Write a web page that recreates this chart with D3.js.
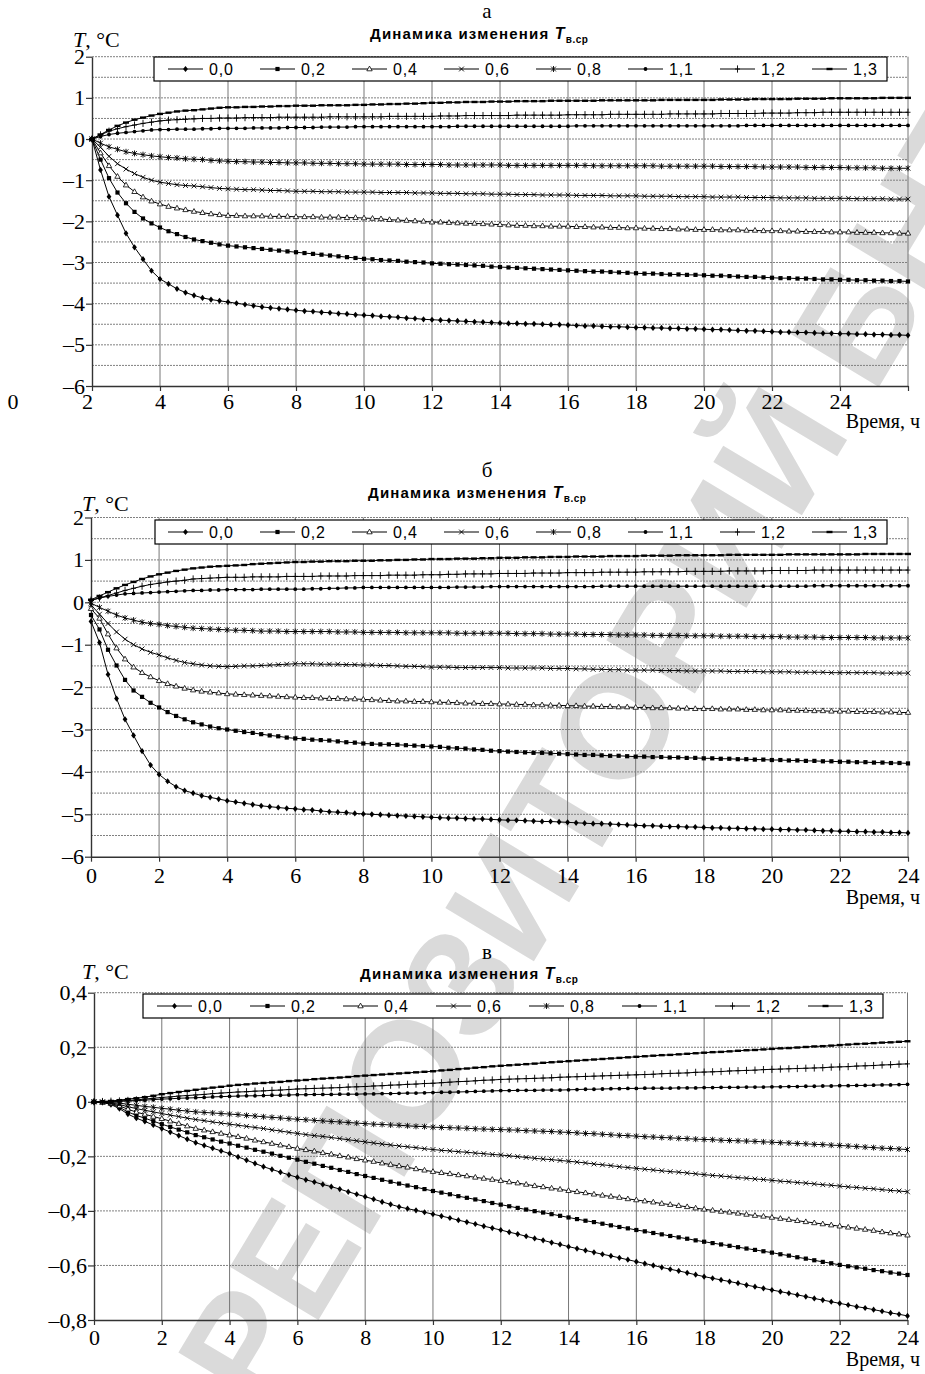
<!DOCTYPE html>
<html>
<head>
<meta charset="utf-8">
<script src="https://cdn.jsdelivr.net/npm/d3@7"></script>
<style>
body { margin: 0; background: #fff; }
svg { display: block; }
</style>
</head>
<body>
<div id="chart"></div>
<script>
// readings every 15 min, 0..24 h
const hours = d3.range(0, 24.001, 0.25);
const hourTicks = [0, 2, 4, 6, 8, 10, 12, 14, 16, 18, 20, 22, 24];
const hourLabels = ["0", "2", "4", "6", "8", "10", "12", "14", "16", "18", "20", "22", "24"];
// panel "а" has its labels moved one step left in the original
const hourLabelsA = ["2", "4", "6", "8", "10", "12", "14", "16", "18", "20", "22", "24", ""];
const tempTicksAB = [-6, -5, -4, -3, -2, -1, 0, 1, 2];
const tempTicksV = [-0.8, -0.6, -0.4, -0.2, 0, 0.2, 0.4];
const seriesNames = ["0,0", "0,2", "0,4", "0,6", "0,8", "1,1", "1,2", "1,3"];

// ---- panel а ----
const a00 = [0,-0.75,-1.4,-1.85,-2.29,-2.63,-2.92,-3.2,-3.4,-3.52,-3.64,-3.73,-3.8,-3.86,-3.9,-3.93,-3.96,
  -3.99,-4.02,-4.05,-4.08,-4.1,-4.12,-4.14,-4.16, -4.18,-4.19,-4.21,-4.22,-4.24,-4.25,-4.27,-4.28,
  -4.29,-4.31,-4.32,-4.33,-4.35,-4.36,-4.38,-4.39, -4.4,-4.41,-4.42,-4.43,-4.44,-4.45,-4.46,-4.47,
  -4.48,-4.48,-4.49,-4.49,-4.5,-4.51,-4.51,-4.52, -4.53,-4.54,-4.54,-4.55,-4.56,-4.56,-4.57,-4.58,
  -4.58,-4.59,-4.59,-4.6,-4.6,-4.61,-4.61,-4.62, -4.63,-4.63,-4.64,-4.65,-4.66,-4.66,-4.67,-4.68,
  -4.69,-4.69,-4.7,-4.7,-4.71,-4.72,-4.72,-4.73, -4.73,-4.74,-4.74,-4.75,-4.75,-4.76,-4.76,-4.77];
const a02 = [0,-0.5,-0.95,-1.3,-1.56,-1.77,-1.93,-2.05,-2.15,-2.24,-2.31,-2.38,-2.44,-2.48,-2.52,-2.56,-2.59,
  -2.61,-2.63,-2.65,-2.67,-2.69,-2.71,-2.73,-2.75, -2.77,-2.79,-2.81,-2.83,-2.85,-2.87,-2.89,-2.91,
  -2.92,-2.94,-2.95,-2.96,-2.98,-2.99,-3.0,-3.02, -3.03,-3.04,-3.05,-3.06,-3.07,-3.08,-3.1,-3.11,
  -3.12,-3.13,-3.14,-3.15,-3.16,-3.17,-3.18,-3.19, -3.2,-3.21,-3.22,-3.22,-3.23,-3.24,-3.25,-3.26,
  -3.27,-3.27,-3.28,-3.29,-3.29,-3.3,-3.3,-3.31, -3.32,-3.32,-3.33,-3.34,-3.35,-3.35,-3.36,-3.37,
  -3.38,-3.38,-3.39,-3.39,-3.4,-3.41,-3.41,-3.42, -3.42,-3.43,-3.43,-3.44,-3.44,-3.45,-3.45,-3.46];
const a04 = [0,-0.34,-0.65,-0.91,-1.12,-1.28,-1.41,-1.51,-1.58,-1.64,-1.68,-1.72,-1.76,-1.79,-1.82,-1.84,-1.86,
  -1.86,-1.87,-1.87,-1.87,-1.88,-1.88,-1.88,-1.89, -1.89,-1.89,-1.9,-1.9,-1.9,-1.91,-1.91,-1.92,
  -1.93,-1.94,-1.96,-1.97,-1.98,-1.99,-2.0,-2.02, -2.02,-2.03,-2.04,-2.05,-2.05,-2.06,-2.07,-2.08,
  -2.09,-2.1,-2.1,-2.11,-2.11,-2.12,-2.12,-2.12, -2.13,-2.13,-2.14,-2.14,-2.15,-2.15,-2.16,-2.16,
  -2.17,-2.17,-2.18,-2.18,-2.19,-2.19,-2.2,-2.2, -2.2,-2.21,-2.21,-2.21,-2.22,-2.22,-2.23,-2.23,
  -2.23,-2.24,-2.24,-2.25,-2.25,-2.25,-2.26,-2.26, -2.26,-2.27,-2.27,-2.27,-2.28,-2.28,-2.29,-2.29];
const a06 = [0,-0.2,-0.42,-0.6,-0.73,-0.84,-0.93,-1.0,-1.05,-1.08,-1.11,-1.13,-1.14,-1.16,-1.18,-1.2,-1.21,
  -1.22,-1.23,-1.23,-1.24,-1.25,-1.25,-1.26,-1.27, -1.27,-1.27,-1.28,-1.28,-1.28,-1.29,-1.29,-1.29,
  -1.29,-1.3,-1.3,-1.3,-1.3,-1.31,-1.31,-1.31, -1.32,-1.32,-1.32,-1.33,-1.33,-1.33,-1.34,-1.34,
  -1.34,-1.35,-1.35,-1.35,-1.36,-1.36,-1.36,-1.36, -1.37,-1.37,-1.37,-1.37,-1.38,-1.38,-1.38,-1.38,
  -1.39,-1.39,-1.39,-1.39,-1.4,-1.4,-1.4,-1.4, -1.41,-1.41,-1.41,-1.41,-1.42,-1.42,-1.42,-1.42,
  -1.43,-1.43,-1.43,-1.43,-1.44,-1.44,-1.44,-1.44, -1.44,-1.45,-1.45,-1.45,-1.45,-1.46,-1.46,-1.46];
const a08 = [0,-0.1,-0.19,-0.25,-0.31,-0.35,-0.38,-0.41,-0.43,-0.45,-0.46,-0.48,-0.49,-0.5,-0.52,-0.53,-0.54,
  -0.55,-0.55,-0.56,-0.56,-0.57,-0.57,-0.58,-0.58, -0.58,-0.59,-0.59,-0.59,-0.6,-0.6,-0.6,-0.61,
  -0.61,-0.61,-0.61,-0.61,-0.62,-0.62,-0.62,-0.62, -0.62,-0.63,-0.63,-0.63,-0.63,-0.63,-0.63,-0.63,
  -0.64,-0.64,-0.64,-0.64,-0.64,-0.64,-0.64,-0.64, -0.64,-0.64,-0.65,-0.65,-0.65,-0.65,-0.65,-0.65,
  -0.65,-0.65,-0.66,-0.66,-0.66,-0.66,-0.66,-0.66, -0.66,-0.67,-0.67,-0.67,-0.67,-0.67,-0.68,-0.68,
  -0.68,-0.68,-0.68,-0.69,-0.69,-0.69,-0.69,-0.69, -0.7,-0.7,-0.7,-0.7,-0.71,-0.71,-0.71,-0.71];
const a11 = [0,0.06,0.11,0.14,0.16,0.18,0.2,0.22,0.23,0.23,0.24,0.24,0.24,0.25,0.25,0.26,0.26,
  0.26,0.26,0.27,0.27,0.27,0.27,0.28,0.28, 0.28,0.28,0.29,0.29,0.29,0.29,0.3,0.3,
  0.3,0.3,0.3,0.3,0.3,0.3,0.3,0.3, 0.3,0.3,0.31,0.31,0.31,0.31,0.31,0.31,
  0.31,0.31,0.31,0.31,0.31,0.31,0.31,0.31, 0.32,0.32,0.32,0.32,0.32,0.32,0.32,0.32,
  0.32,0.32,0.32,0.32,0.32,0.32,0.32,0.32, 0.32,0.32,0.32,0.32,0.33,0.33,0.33,0.33,
  0.33,0.33,0.33,0.33,0.33,0.33,0.33,0.33, 0.33,0.33,0.33,0.33,0.33,0.33,0.33,0.33];
const a12 = [0,0.1,0.19,0.25,0.3,0.34,0.38,0.41,0.44,0.46,0.47,0.48,0.49,0.5,0.5,0.51,0.51,
  0.51,0.52,0.52,0.52,0.52,0.53,0.53,0.53, 0.53,0.53,0.53,0.54,0.54,0.54,0.54,0.54,
  0.54,0.54,0.55,0.55,0.55,0.55,0.55,0.55, 0.56,0.56,0.56,0.57,0.57,0.57,0.57,0.57,
  0.57,0.58,0.58,0.58,0.58,0.58,0.58,0.59, 0.59,0.59,0.59,0.59,0.6,0.6,0.6,0.6,
  0.6,0.6,0.6,0.61,0.61,0.61,0.61,0.61, 0.61,0.62,0.62,0.62,0.62,0.62,0.63,0.63,
  0.63,0.63,0.64,0.64,0.64,0.65,0.65,0.65, 0.65,0.65,0.65,0.65,0.65,0.65,0.65,0.65];
const a13 = [0,0.11,0.22,0.32,0.4,0.47,0.52,0.57,0.61,0.64,0.67,0.69,0.7,0.72,0.74,0.76,0.77,
  0.77,0.78,0.78,0.79,0.79,0.8,0.8,0.81, 0.81,0.81,0.82,0.82,0.82,0.82,0.83,0.83,
  0.84,0.84,0.85,0.85,0.86,0.86,0.87,0.88, 0.88,0.89,0.89,0.9,0.9,0.9,0.91,0.91,
  0.91,0.92,0.92,0.92,0.92,0.93,0.93,0.93, 0.93,0.93,0.93,0.94,0.94,0.94,0.94,0.94,
  0.94,0.94,0.95,0.95,0.95,0.95,0.95,0.95, 0.95,0.96,0.96,0.96,0.96,0.97,0.97,0.97,
  0.97,0.97,0.98,0.98,0.98,0.98,0.99,0.99, 0.99,0.99,0.99,0.99,1.0,1.0,1.0,1.0];

// ---- panel б ----
const b00 = [-0.45,-0.95,-1.7,-2.27,-2.76,-3.14,-3.51,-3.84,-4.06,-4.22,-4.35,-4.44,-4.5,-4.56,-4.6,-4.64,-4.68,
  -4.71,-4.74,-4.77,-4.8,-4.82,-4.84,-4.86,-4.87, -4.89,-4.9,-4.92,-4.94,-4.95,-4.96,-4.98,-4.99,
  -5.0,-5.01,-5.02,-5.03,-5.04,-5.05,-5.06,-5.07, -5.08,-5.09,-5.09,-5.1,-5.11,-5.11,-5.12,-5.13,
  -5.14,-5.14,-5.15,-5.16,-5.17,-5.17,-5.18,-5.19, -5.2,-5.21,-5.22,-5.22,-5.23,-5.24,-5.25,-5.26,
  -5.27,-5.27,-5.28,-5.29,-5.29,-5.3,-5.3,-5.31, -5.32,-5.32,-5.33,-5.33,-5.34,-5.34,-5.35,-5.35,
  -5.36,-5.36,-5.37,-5.37,-5.38,-5.39,-5.39,-5.4, -5.4,-5.41,-5.41,-5.42,-5.42,-5.43,-5.43,-5.44];
const b02 = [-0.3,-0.64,-1.12,-1.49,-1.83,-2.08,-2.23,-2.37,-2.48,-2.59,-2.68,-2.76,-2.83,-2.88,-2.93,-2.97,-3.0,
  -3.03,-3.06,-3.08,-3.11,-3.14,-3.16,-3.19,-3.21, -3.22,-3.24,-3.25,-3.26,-3.28,-3.3,-3.31,-3.33,
  -3.34,-3.35,-3.35,-3.36,-3.37,-3.38,-3.39,-3.4, -3.41,-3.43,-3.44,-3.45,-3.47,-3.48,-3.5,-3.51,
  -3.52,-3.53,-3.54,-3.55,-3.55,-3.56,-3.57,-3.58, -3.59,-3.6,-3.6,-3.61,-3.62,-3.62,-3.63,-3.64,
  -3.64,-3.65,-3.65,-3.66,-3.66,-3.67,-3.67,-3.68, -3.68,-3.69,-3.69,-3.7,-3.7,-3.71,-3.71,-3.72,
  -3.72,-3.73,-3.73,-3.74,-3.74,-3.75,-3.75,-3.76, -3.76,-3.77,-3.77,-3.78,-3.78,-3.79,-3.79,-3.8];
const b04 = [-0.15,-0.38,-0.75,-1.08,-1.34,-1.53,-1.66,-1.76,-1.85,-1.92,-1.98,-2.03,-2.07,-2.1,-2.12,-2.14,-2.16,
  -2.17,-2.18,-2.19,-2.2,-2.21,-2.22,-2.23,-2.24, -2.25,-2.25,-2.26,-2.27,-2.27,-2.28,-2.28,-2.29,
  -2.3,-2.31,-2.32,-2.33,-2.33,-2.34,-2.34,-2.35, -2.36,-2.36,-2.37,-2.38,-2.38,-2.39,-2.39,-2.4,
  -2.4,-2.41,-2.41,-2.42,-2.42,-2.43,-2.43,-2.44, -2.44,-2.45,-2.45,-2.46,-2.46,-2.47,-2.47,-2.48,
  -2.48,-2.49,-2.49,-2.49,-2.5,-2.5,-2.51,-2.51, -2.51,-2.52,-2.52,-2.52,-2.53,-2.53,-2.54,-2.54,
  -2.54,-2.55,-2.55,-2.55,-2.56,-2.56,-2.57,-2.57, -2.57,-2.58,-2.58,-2.58,-2.59,-2.59,-2.6,-2.6];
const b06 = [-0.06,-0.28,-0.5,-0.7,-0.87,-1.0,-1.1,-1.18,-1.24,-1.31,-1.37,-1.42,-1.45,-1.48,-1.5,-1.51,-1.52,
  -1.51,-1.5,-1.5,-1.49,-1.48,-1.47,-1.46,-1.45, -1.45,-1.45,-1.46,-1.46,-1.46,-1.47,-1.47,-1.48,
  -1.48,-1.49,-1.49,-1.5,-1.51,-1.51,-1.52,-1.53, -1.53,-1.53,-1.54,-1.54,-1.54,-1.54,-1.54,-1.54,
  -1.55,-1.55,-1.55,-1.55,-1.55,-1.56,-1.56,-1.56, -1.57,-1.57,-1.58,-1.58,-1.59,-1.59,-1.6,-1.6,
  -1.6,-1.6,-1.61,-1.61,-1.61,-1.62,-1.62,-1.62, -1.62,-1.62,-1.63,-1.63,-1.63,-1.63,-1.64,-1.64,
  -1.64,-1.64,-1.65,-1.65,-1.65,-1.65,-1.66,-1.66, -1.66,-1.66,-1.66,-1.66,-1.67,-1.67,-1.67,-1.67];
const b08 = [-0.02,-0.12,-0.21,-0.3,-0.37,-0.42,-0.47,-0.5,-0.52,-0.55,-0.57,-0.59,-0.61,-0.62,-0.63,-0.64,-0.65,
  -0.66,-0.66,-0.67,-0.68,-0.68,-0.68,-0.69,-0.69, -0.69,-0.69,-0.69,-0.69,-0.7,-0.7,-0.7,-0.71,
  -0.71,-0.71,-0.71,-0.71,-0.72,-0.72,-0.72,-0.72, -0.72,-0.72,-0.73,-0.73,-0.73,-0.73,-0.73,-0.73,
  -0.73,-0.74,-0.74,-0.74,-0.74,-0.75,-0.75,-0.75, -0.75,-0.76,-0.76,-0.76,-0.76,-0.77,-0.77,-0.77,
  -0.77,-0.78,-0.78,-0.78,-0.78,-0.79,-0.79,-0.79, -0.79,-0.8,-0.8,-0.8,-0.8,-0.81,-0.81,-0.81,
  -0.81,-0.82,-0.82,-0.82,-0.82,-0.83,-0.83,-0.83, -0.83,-0.83,-0.83,-0.84,-0.84,-0.84,-0.84,-0.84];
const b11 = [0.05,0.1,0.14,0.17,0.2,0.21,0.22,0.23,0.24,0.25,0.26,0.27,0.28,0.28,0.29,0.29,0.3,
  0.3,0.3,0.3,0.31,0.31,0.31,0.31,0.31, 0.31,0.32,0.32,0.33,0.33,0.34,0.34,0.35,
  0.35,0.35,0.35,0.35,0.35,0.35,0.35,0.35, 0.35,0.35,0.36,0.36,0.36,0.36,0.37,0.37,
  0.37,0.37,0.37,0.37,0.37,0.37,0.37,0.37, 0.37,0.37,0.37,0.38,0.38,0.38,0.38,0.38,
  0.38,0.38,0.38,0.38,0.38,0.38,0.38,0.38, 0.38,0.38,0.38,0.38,0.38,0.38,0.38,0.38,
  0.38,0.38,0.38,0.38,0.39,0.39,0.39,0.39, 0.39,0.39,0.39,0.39,0.39,0.39,0.39,0.39];
const b12 = [0.05,0.1,0.16,0.22,0.28,0.33,0.38,0.42,0.45,0.48,0.5,0.52,0.55,0.56,0.57,0.58,0.59,
  0.59,0.59,0.6,0.6,0.6,0.6,0.61,0.61, 0.61,0.61,0.62,0.62,0.62,0.62,0.63,0.63,
  0.63,0.63,0.64,0.64,0.64,0.64,0.65,0.65, 0.65,0.66,0.66,0.67,0.67,0.67,0.67,0.68,
  0.68,0.68,0.68,0.69,0.69,0.69,0.69,0.7, 0.7,0.7,0.7,0.71,0.71,0.71,0.71,0.71,
  0.72,0.72,0.72,0.72,0.72,0.73,0.73,0.73, 0.73,0.73,0.74,0.74,0.74,0.74,0.74,0.75,
  0.75,0.75,0.75,0.75,0.76,0.76,0.76,0.76, 0.76,0.76,0.76,0.76,0.76,0.76,0.76,0.76];
const b13 = [0.06,0.15,0.24,0.33,0.41,0.48,0.55,0.61,0.66,0.7,0.74,0.77,0.8,0.82,0.84,0.85,0.86,
  0.87,0.88,0.9,0.91,0.92,0.93,0.94,0.95, 0.95,0.96,0.96,0.97,0.97,0.97,0.98,0.98,
  0.98,0.99,0.99,1.0,1.0,1.01,1.01,1.02, 1.02,1.02,1.03,1.03,1.03,1.04,1.04,1.05,
  1.05,1.05,1.06,1.06,1.06,1.07,1.07,1.07, 1.08,1.08,1.08,1.08,1.09,1.09,1.09,1.09,
  1.1,1.1,1.1,1.1,1.11,1.11,1.11,1.11, 1.11,1.11,1.12,1.12,1.12,1.12,1.12,1.12,
  1.12,1.13,1.13,1.13,1.13,1.13,1.13,1.13, 1.13,1.13,1.14,1.14,1.14,1.14,1.14,1.14];

// ---- panel в ----
const c00 = [0,-0.002,-0.01,-0.025,-0.045,-0.06,-0.072,-0.085,-0.098,-0.111,-0.124,-0.137,-0.15,-0.16,-0.17,-0.18,-0.19,
  -0.202,-0.214,-0.226,-0.238,-0.248,-0.258,-0.268,-0.277, -0.286,-0.294,-0.303,-0.311,-0.32,-0.33,-0.339,-0.348,
  -0.357,-0.367,-0.376,-0.385,-0.392,-0.398,-0.405,-0.412, -0.419,-0.426,-0.434,-0.441,-0.448,-0.456,-0.463,-0.47,
  -0.478,-0.485,-0.493,-0.501,-0.508,-0.516,-0.523,-0.531, -0.538,-0.545,-0.552,-0.559,-0.565,-0.572,-0.579,-0.586,
  -0.593,-0.6,-0.607,-0.614,-0.62,-0.627,-0.634,-0.641, -0.647,-0.653,-0.659,-0.665,-0.672,-0.678,-0.684,-0.69,
  -0.696,-0.702,-0.708,-0.714,-0.721,-0.727,-0.733,-0.739, -0.745,-0.751,-0.756,-0.762,-0.768,-0.774,-0.779,-0.785];
const c02 = [0,-0.002,-0.008,-0.02,-0.037,-0.05,-0.06,-0.071,-0.082,-0.092,-0.102,-0.112,-0.122,-0.13,-0.138,-0.146,-0.153,
  -0.161,-0.168,-0.176,-0.183,-0.19,-0.198,-0.205,-0.212, -0.22,-0.227,-0.235,-0.242,-0.25,-0.257,-0.265,-0.272,
  -0.279,-0.286,-0.293,-0.3,-0.307,-0.313,-0.32,-0.327, -0.333,-0.339,-0.346,-0.352,-0.358,-0.364,-0.371,-0.377,
  -0.383,-0.389,-0.395,-0.401,-0.406,-0.412,-0.418,-0.424, -0.43,-0.436,-0.441,-0.447,-0.453,-0.459,-0.464,-0.47,
  -0.475,-0.481,-0.486,-0.492,-0.497,-0.502,-0.508,-0.513, -0.518,-0.523,-0.528,-0.533,-0.538,-0.543,-0.548,-0.553,
  -0.559,-0.564,-0.57,-0.575,-0.581,-0.587,-0.592,-0.598, -0.603,-0.607,-0.612,-0.617,-0.621,-0.626,-0.63,-0.635];
const c04 = [0,-0.002,-0.006,-0.015,-0.027,-0.038,-0.046,-0.054,-0.062,-0.071,-0.08,-0.089,-0.098,-0.104,-0.11,-0.116,-0.122,
  -0.128,-0.134,-0.141,-0.147,-0.153,-0.159,-0.165,-0.171, -0.176,-0.181,-0.187,-0.192,-0.198,-0.203,-0.209,-0.214,
  -0.219,-0.225,-0.23,-0.235,-0.24,-0.246,-0.251,-0.256, -0.26,-0.264,-0.268,-0.272,-0.277,-0.281,-0.285,-0.289,
  -0.294,-0.298,-0.303,-0.308,-0.312,-0.317,-0.321,-0.326, -0.33,-0.334,-0.339,-0.343,-0.347,-0.351,-0.356,-0.36,
  -0.364,-0.368,-0.373,-0.377,-0.381,-0.385,-0.39,-0.394, -0.398,-0.402,-0.405,-0.409,-0.413,-0.417,-0.42,-0.424,
  -0.428,-0.432,-0.436,-0.44,-0.444,-0.448,-0.452,-0.456, -0.46,-0.464,-0.468,-0.472,-0.477,-0.481,-0.485,-0.489];
const c06 = [0,-0.001,-0.004,-0.01,-0.018,-0.025,-0.031,-0.037,-0.043,-0.049,-0.054,-0.06,-0.065,-0.069,-0.074,-0.078,-0.082,
  -0.086,-0.09,-0.094,-0.098,-0.103,-0.107,-0.112,-0.116, -0.12,-0.124,-0.127,-0.131,-0.135,-0.139,-0.143,-0.147,
  -0.151,-0.155,-0.158,-0.162,-0.165,-0.168,-0.172,-0.175, -0.178,-0.18,-0.183,-0.185,-0.188,-0.19,-0.193,-0.195,
  -0.198,-0.201,-0.204,-0.207,-0.21,-0.212,-0.215,-0.218, -0.221,-0.224,-0.228,-0.231,-0.234,-0.238,-0.241,-0.244,
  -0.247,-0.25,-0.253,-0.256,-0.258,-0.261,-0.264,-0.267, -0.27,-0.272,-0.275,-0.278,-0.28,-0.283,-0.285,-0.288,
  -0.291,-0.293,-0.296,-0.298,-0.301,-0.304,-0.306,-0.309, -0.312,-0.314,-0.317,-0.319,-0.322,-0.325,-0.327,-0.33];
const c08 = [0,0,-0.002,-0.005,-0.009,-0.013,-0.017,-0.02,-0.024,-0.027,-0.031,-0.034,-0.037,-0.039,-0.041,-0.043,-0.045,
  -0.047,-0.05,-0.052,-0.055,-0.057,-0.059,-0.062,-0.064, -0.066,-0.068,-0.07,-0.072,-0.074,-0.076,-0.078,-0.08,
  -0.082,-0.083,-0.085,-0.086,-0.088,-0.09,-0.091,-0.093, -0.094,-0.095,-0.096,-0.097,-0.099,-0.1,-0.101,-0.102,
  -0.103,-0.104,-0.106,-0.107,-0.108,-0.109,-0.111,-0.112, -0.114,-0.116,-0.117,-0.119,-0.121,-0.123,-0.124,-0.126,
  -0.128,-0.129,-0.131,-0.132,-0.134,-0.135,-0.137,-0.138, -0.139,-0.141,-0.142,-0.143,-0.144,-0.145,-0.147,-0.148,
  -0.15,-0.151,-0.153,-0.154,-0.156,-0.157,-0.159,-0.16, -0.162,-0.164,-0.166,-0.168,-0.17,-0.171,-0.173,-0.175];
const c11 = [0,0,0.001,0.002,0.003,0.004,0.006,0.008,0.01,0.011,0.013,0.014,0.015,0.016,0.018,0.019,0.02,
  0.021,0.022,0.022,0.023,0.024,0.024,0.025,0.026, 0.026,0.027,0.027,0.027,0.028,0.028,0.028,0.029,
  0.029,0.03,0.03,0.031,0.032,0.032,0.033,0.034, 0.035,0.035,0.036,0.037,0.038,0.039,0.04,0.041,
  0.041,0.042,0.042,0.042,0.043,0.043,0.043,0.044, 0.045,0.046,0.046,0.047,0.048,0.048,0.049,0.049,
  0.05,0.05,0.05,0.05,0.051,0.051,0.051,0.052, 0.052,0.053,0.053,0.053,0.054,0.054,0.054,0.055,
  0.055,0.056,0.056,0.057,0.057,0.058,0.058,0.059, 0.059,0.06,0.06,0.061,0.062,0.062,0.063,0.064];
const c12 = [0,0.001,0.002,0.003,0.005,0.007,0.01,0.013,0.016,0.018,0.021,0.023,0.025,0.027,0.03,0.032,0.034,
  0.036,0.037,0.039,0.04,0.042,0.043,0.045,0.047, 0.048,0.049,0.05,0.051,0.052,0.054,0.055,0.056,
  0.058,0.059,0.061,0.062,0.064,0.065,0.067,0.068, 0.07,0.072,0.074,0.075,0.077,0.079,0.08,0.082,
  0.083,0.084,0.085,0.086,0.087,0.088,0.09,0.091, 0.092,0.093,0.094,0.095,0.096,0.097,0.098,0.099,
  0.1,0.101,0.103,0.104,0.105,0.106,0.108,0.109, 0.11,0.111,0.113,0.114,0.115,0.116,0.118,0.119,
  0.12,0.121,0.122,0.123,0.124,0.125,0.127,0.128, 0.129,0.131,0.132,0.133,0.135,0.136,0.138,0.139];
const c13 = [0,0.001,0.003,0.006,0.01,0.013,0.017,0.022,0.028,0.032,0.036,0.04,0.044,0.048,0.052,0.055,0.059,
  0.062,0.064,0.067,0.069,0.071,0.073,0.076,0.078, 0.08,0.083,0.085,0.087,0.089,0.091,0.094,0.096,
  0.098,0.1,0.102,0.104,0.106,0.108,0.11,0.112, 0.115,0.117,0.12,0.122,0.125,0.127,0.13,0.132,
  0.134,0.136,0.138,0.14,0.143,0.145,0.147,0.149, 0.151,0.153,0.155,0.157,0.159,0.161,0.163,0.165,
  0.167,0.169,0.171,0.172,0.174,0.176,0.178,0.18, 0.182,0.183,0.185,0.187,0.189,0.19,0.192,0.194,
  0.196,0.197,0.199,0.201,0.203,0.204,0.206,0.208, 0.21,0.212,0.213,0.215,0.217,0.218,0.22,0.222];

// marker shapes for the 8 series, in legend order
const markers = [
  {d: "M0,-3.1L2.4,0L0,3.1L-2.4,0Z", fill: "#000", stroke: "none", sw: 0},
  {d: "M-2.1,-2.1H2.1V2.1H-2.1Z", fill: "#000", stroke: "none", sw: 0},
  {d: "M0,-2.9L2.7,1.8H-2.7Z", fill: "#fff", stroke: "#000", sw: 0.8},
  {d: "M-2.4,-2.4L2.4,2.4M-2.4,2.4L2.4,-2.4", fill: "none", stroke: "#000", sw: 0.9},
  {d: "M-2.4,-2.4L2.4,2.4M-2.4,2.4L2.4,-2.4M0,-3V3", fill: "none", stroke: "#000", sw: 0.9},
  {d: "M1.9,0A1.9,1.9 0 1,1 -1.9,0A1.9,1.9 0 1,1 1.9,0Z", fill: "#000", stroke: "none", sw: 0},
  {d: "M-2.5,0H2.5M0,-3.6V3.6", fill: "none", stroke: "#000", sw: 0.9},
  {d: "M-3,0H3", fill: "none", stroke: "#000", sw: 2.4}
];

const fmtInt = d => (d < 0 ? "\u2013" : "") + Math.abs(d);
const fmtDec = d => d === 0 ? "0" : (d < 0 ? "\u2013" : "") + Math.abs(d).toFixed(1).replace(".", ",");

const panels = [
  {letter: "а", series: [a00, a02, a04, a06, a08, a11, a12, a13],
   left: 92, right: 908, top: 56.7, bottom: 386, yDomain: [-6, 2], yTicks: tempTicksAB, fmt: fmtInt,
   hGrid: d3.range(-5.5, 2.01, 0.5), xLabels: hourLabelsA,
   letterY: 18, titleX: 370, titleY: 39, unitX: 73, unitY: 47,
   legX: 154, legY: 57, legW: 733, legStart: 168, legStep: 92,
   xLabelY: 409, timeY: 428},
  {letter: "б", series: [b00, b02, b04, b06, b08, b11, b12, b13],
   left: 91, right: 908, top: 517.5, bottom: 856.7, yDomain: [-6, 2], yTicks: tempTicksAB, fmt: fmtInt,
   hGrid: d3.range(-5.5, 2.01, 0.5), xLabels: hourLabels,
   letterY: 477, titleX: 368, titleY: 498, unitX: 82, unitY: 511,
   legX: 155, legY: 520, legW: 732, legStart: 168, legStep: 92,
   xLabelY: 883, timeY: 904},
  {letter: "в", series: [c00, c02, c04, c06, c08, c11, c12, c13],
   left: 94, right: 907.5, top: 992.7, bottom: 1320, yDomain: [-0.8, 0.4], yTicks: tempTicksV, fmt: fmtDec,
   hGrid: tempTicksV.slice(1), xLabels: hourLabels,
   letterY: 959, titleX: 360, titleY: 979, unitX: 82, unitY: 979,
   legX: 143, legY: 994, legW: 740, legStart: 157, legStep: 93,
   xLabelY: 1345, timeY: 1366}
];

const svg = d3.select("#chart").append("svg")
  .attr("width", 925).attr("height", 1374)
  .style("font-family", "'Liberation Serif', 'Times New Roman', serif");

svg.append("rect").attr("width", 925).attr("height", 1374).attr("fill", "#fff");

// repository watermark, clipped to the page
svg.append("clipPath").attr("id", "page")
  .append("rect").attr("width", 925).attr("height", 1374);
svg.append("g").attr("clip-path", "url(#page)")
  .append("text")
  .attr("transform", "translate(671,733) rotate(-59)")
  .attr("text-anchor", "middle")
  .style("font-family", "'Liberation Sans', Arial, sans-serif")
  .style("font-weight", "bold")
  .style("font-size", "150px")
  .attr("fill", "#dadada")
  .text("РЕПОЗИТОРИЙ БНТУ");

function drawMarker(sel, m) {
  sel.append("path").attr("d", m.d)
    .attr("fill", m.fill).attr("stroke", m.stroke).attr("stroke-width", m.sw);
}

function drawPanel(p) {
  let x = d3.scaleLinear().domain([0, 24]).range([p.left, p.right]);
  let y = d3.scaleLinear().domain(p.yDomain).range([p.bottom, p.top]);
  let g = svg.append("g");

  // grid
  g.append("g").selectAll("line").data(p.hGrid).enter().append("line")
    .attr("x1", p.left).attr("x2", p.right)
    .attr("y1", d => y(d)).attr("y2", d => y(d))
    .attr("stroke", "#808080").attr("stroke-width", 1).attr("stroke-dasharray", "2,1");
  g.append("g").selectAll("line").data(hourTicks.slice(1)).enter().append("line")
    .attr("x1", d => x(d)).attr("x2", d => x(d))
    .attr("y1", p.top).attr("y2", p.bottom)
    .attr("stroke", "#777").attr("stroke-width", 1);

  // axes
  let yAxis = g.append("g").attr("transform", `translate(${p.left},0)`)
    .call(d3.axisLeft(y).tickValues(p.yTicks).tickFormat(p.fmt).tickSize(6).tickSizeOuter(0));
  let xAxis = g.append("g").attr("transform", `translate(0,${p.bottom})`)
    .call(d3.axisBottom(x).tickValues(hourTicks).tickFormat((d, i) => p.xLabels[i]).tickSize(5).tickSizeOuter(0));
  [yAxis, xAxis].forEach(a => {
    a.select(".domain").attr("stroke", "#333").attr("stroke-width", 1.4);
    a.selectAll(".tick line").attr("stroke", "#333").attr("stroke-width", 1.2);
    a.selectAll("text").attr("fill", "#000")
      .style("font-family", "'Liberation Serif', serif").style("font-size", "22px");
  });
  yAxis.selectAll("text").attr("x", -7);
  xAxis.selectAll("text").attr("y", p.xLabelY - p.bottom).attr("dy", 0);
  if (p.letter === "а") {
    xAxis.selectAll("text").filter((d, i) => i === 0).attr("dx", -5);
    g.append("text").attr("x", 13).attr("y", p.xLabelY).attr("text-anchor", "middle")
      .style("font-size", "22px").text("0");
  }

  // series
  let line = d3.line().x((d, i) => x(hours[i])).y(d => y(d));
  p.series.forEach((vals, k) => {
    let s = g.append("g");
    s.append("path").datum(vals).attr("d", line)
      .attr("fill", "none").attr("stroke", "#000").attr("stroke-width", 1);
    let pts = s.selectAll("g").data(vals).enter().append("g")
      .attr("transform", (d, i) => `translate(${x(hours[i])},${y(d)})`);
    drawMarker(pts, markers[k]);
  });

  // legend
  let leg = g.append("g");
  leg.append("rect").attr("x", p.legX).attr("y", p.legY).attr("width", p.legW).attr("height", 24)
    .attr("fill", "#fff").attr("stroke", "#000").attr("stroke-width", 1.2);
  seriesNames.forEach((name, k) => {
    let lx = p.legStart + k * p.legStep, ly = p.legY + 12;
    leg.append("line").attr("x1", lx).attr("x2", lx + 35).attr("y1", ly).attr("y2", ly)
      .attr("stroke", "#000").attr("stroke-width", 1);
    drawMarker(leg.append("g").attr("transform", `translate(${lx + 17.5},${ly})`), markers[k]);
    leg.append("text").attr("x", lx + 41).attr("y", ly + 6)
      .style("font-family", "'Liberation Sans', Arial, sans-serif").style("font-size", "16px")
      .style("letter-spacing", "0.8px").text(name);
  });

  // texts
  g.append("text").attr("x", 487).attr("y", p.letterY).attr("text-anchor", "middle")
    .style("font-size", "21px").text(p.letter);
  let title = g.append("text").attr("x", p.titleX).attr("y", p.titleY)
    .style("font-family", "'Liberation Sans', Arial, sans-serif").style("font-weight", "bold")
    .style("font-size", "15px").style("letter-spacing", "1.2px");
  title.append("tspan").text("Динамика изменения ");
  title.append("tspan").style("font-style", "italic").style("font-size", "16px").text("T");
  title.append("tspan").attr("dy", 4).style("font-size", "10px").style("letter-spacing", "0.5px").text("в.ср");
  let unit = g.append("text").attr("x", p.unitX).attr("y", p.unitY).style("font-size", "22px");
  unit.append("tspan").style("font-style", "italic").text("T");
  unit.append("tspan").text(", °C");
  g.append("text").attr("x", 920).attr("y", p.timeY).attr("text-anchor", "end")
    .style("font-size", "20px").text("Время, ч");
}

panels.forEach(drawPanel);
</script>
</body>
</html>
